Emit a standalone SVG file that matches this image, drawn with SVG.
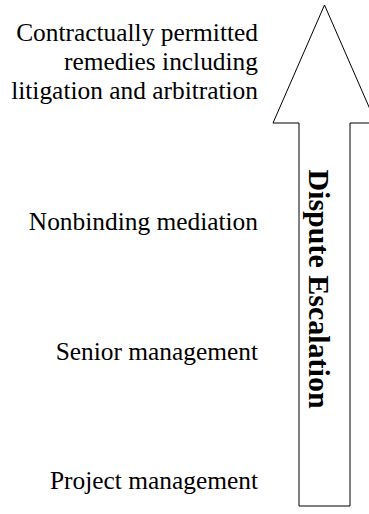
<svg xmlns="http://www.w3.org/2000/svg" width="369" height="514" viewBox="0 0 369 514">
  <style>
    .lbl { font-family: "Liberation Serif", "Times New Roman", serif; font-size: 25.4px; fill: #000; text-anchor: end; }
    .axis { font-family: "Liberation Serif", "Times New Roman", serif; font-size: 30px; font-weight: bold; fill: #000; text-anchor: middle; }
    .arrow { fill: #fff; stroke: #000; stroke-width: 1; }
  </style>
  <rect width="369" height="514" fill="#fff"/>

  <!-- escalation arrow -->
  <g id="connectors">
    <polygon class="arrow" points="324.5,5 376,123 350,123 350,506 299,506 299,123 273,123"/>
  </g>

  <g id="escalation-label">
    <text class="axis" transform="translate(309,289) rotate(90)">Dispute Escalation</text>
  </g>

  <!-- escalation steps, top to bottom -->
  <g id="step-remedies">
    <text class="lbl" x="258" y="41">Contractually permitted</text>
    <text class="lbl" x="258" y="70">remedies including</text>
    <text class="lbl" x="258" y="99">litigation and arbitration</text>
  </g>
  <g id="step-mediation">
    <text class="lbl" x="258" y="230">Nonbinding mediation</text>
  </g>
  <g id="step-senior">
    <text class="lbl" x="258" y="360">Senior management</text>
  </g>
  <g id="step-project">
    <text class="lbl" x="258" y="489">Project management</text>
  </g>
</svg>
